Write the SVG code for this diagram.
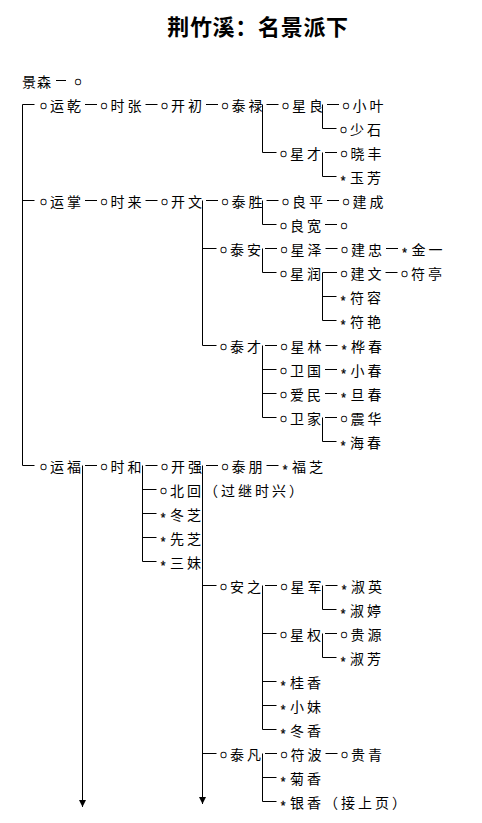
<svg xmlns="http://www.w3.org/2000/svg" width="482" height="823" viewBox="0 0 482 823">
<style>
.bg{fill:#fff}
.title{font-family:"Noto Sans CJK SC","Noto Sans CJK JP",sans-serif;font-size:22px;font-weight:bold;letter-spacing:0.7px;text-anchor:middle;fill:#000}
.t{font-family:"Noto Sans CJK SC","Noto Sans CJK JP",sans-serif;font-size:14px;letter-spacing:3px;fill:#000}
.o{font-family:"Noto Sans CJK SC","Noto Sans CJK JP",sans-serif;font-size:6px;fill:#000;stroke:#000;stroke-width:0.5;text-anchor:middle}
.s{font-family:"Liberation Sans",Arial,sans-serif;font-size:12px;fill:#000;stroke:#000;stroke-width:0.3;text-anchor:middle}
.c path{stroke:#000;stroke-width:1;fill:none}
</style>
<defs>
<marker id="arr" markerUnits="userSpaceOnUse" markerWidth="7" markerHeight="8" refX="7" refY="3.5" orient="auto">
<path d="M0,0 L7,3.5 L0,7 z" fill="#000"/>
</marker>
</defs>
<rect class="bg" x="0" y="0" width="482" height="823"/>
<text class="title" x="258" y="35">荆竹溪：名景派下</text>

<g id="connectors" class="c">
<path d="M56,80.5H66
M85,104.5H97 M145.5,104.5H157.5 M206,104.5H218 M266.5,104.5H278.5 M327,104.5H339
M325,152.5H337
M85,200.5H97 M145.5,200.5H157.5 M206,200.5H218 M266.5,200.5H278.5 M327,200.5H339
M325,224.5H337
M265,248.5H277 M325.5,248.5H337.5 M386,248.5H398
M322.5,272.5H337 M385.5,272.5H397.5
M265,345.5H277 M325.5,345.5H337.5
M325,369.5H337
M325,393.5H337
M325,417.5H337
M85,465.5H97 M145.5,465.5H157.5 M206,465.5H218 M266.5,465.5H278.5
M265,585.5H277 M325.5,585.5H337.5
M325,633.5H337
M265,753.5H277 M325.5,753.5H337.5"/>
<path d="M34.5,104.5H22.5V465.5H34.5 M22.5,200.5H34.5"/>
<path d="M262.5,104.5V152.5H276.5"/>
<path d="M322.5,104.5V128.5H336.5"/>
<path d="M322.5,152.5V176.5H336.5"/>
<path d="M202.5,200.5V345.5H216.5 M202.5,248.5H216.5"/>
<path d="M262.5,200.5V224.5H276.5"/>
<path d="M262.5,248.5V272.5H276.5"/>
<path d="M322.5,272.5V320.5H336.5 M322.5,296.5H336.5"/>
<path d="M262.5,345.5V417.5H276.5 M262.5,369.5H276.5 M262.5,393.5H276.5"/>
<path d="M322.5,417.5V441.5H336.5"/>
<path d="M142.5,465.5V561.5H156.5 M142.5,489.5H156.5 M142.5,513.5H156.5 M142.5,537.5H156.5"/>
<path d="M202.5,585.5H216.5 M202.5,753.5H216.5"/>
<path d="M262.5,585.5V729.5H276.5 M262.5,633.5H276.5 M262.5,681.5H276.5 M262.5,705.5H276.5"/>
<path d="M322.5,585.5V609.5H336.5"/>
<path d="M322.5,633.5V657.5H336.5"/>
<path d="M262.5,753.5V801.5H276.5 M262.5,777.5H276.5"/>
<path d="M82.5,465.5V807" marker-end="url(#arr)"/>
<path d="M202.5,465.5V804" marker-end="url(#arr)"/>
</g>

<g id="n00"><text class="t" x="22" y="86.5" style="letter-spacing:1px">景森</text><text class="o" x="78" y="83.5">○</text></g>

<g id="n01" transform="translate(41,104.5)"><text class="o" x="2.5" y="3">○</text><text class="t" x="9" y="6">运乾</text></g>
<g id="n02" transform="translate(101.5,104.5)"><text class="o" x="2.5" y="3">○</text><text class="t" x="9" y="6">时张</text></g>
<g id="n03" transform="translate(162,104.5)"><text class="o" x="2.5" y="3">○</text><text class="t" x="9" y="6">开初</text></g>
<g id="n04" transform="translate(222.5,104.5)"><text class="o" x="2.5" y="3">○</text><text class="t" x="9" y="6">泰禄</text></g>
<g id="n05" transform="translate(283,104.5)"><text class="o" x="2.5" y="3">○</text><text class="t" x="9" y="6">星良</text></g>
<g id="n06" transform="translate(343.5,104.5)"><text class="o" x="2.5" y="3">○</text><text class="t" x="9" y="6">小叶</text></g>
<g id="n07" transform="translate(341,128.5)"><text class="o" x="2.5" y="3">○</text><text class="t" x="9" y="6">少石</text></g>
<g id="n08" transform="translate(281,152.5)"><text class="o" x="2.5" y="3">○</text><text class="t" x="9" y="6">星才</text></g>
<g id="n09" transform="translate(341.5,152.5)"><text class="o" x="2.5" y="3">○</text><text class="t" x="9" y="6">晓丰</text></g>
<g id="n10" transform="translate(341,176.5)"><text class="s" x="2" y="8.5">*</text><text class="t" x="9" y="6">玉芳</text></g>

<g id="n11" transform="translate(41,200.5)"><text class="o" x="2.5" y="3">○</text><text class="t" x="9" y="6">运掌</text></g>
<g id="n12" transform="translate(101.5,200.5)"><text class="o" x="2.5" y="3">○</text><text class="t" x="9" y="6">时来</text></g>
<g id="n13" transform="translate(162,200.5)"><text class="o" x="2.5" y="3">○</text><text class="t" x="9" y="6">开文</text></g>
<g id="n14" transform="translate(222.5,200.5)"><text class="o" x="2.5" y="3">○</text><text class="t" x="9" y="6">泰胜</text></g>
<g id="n15" transform="translate(283,200.5)"><text class="o" x="2.5" y="3">○</text><text class="t" x="9" y="6">良平</text></g>
<g id="n16" transform="translate(343.5,200.5)"><text class="o" x="2.5" y="3">○</text><text class="t" x="9" y="6">建成</text></g>
<g id="n17" transform="translate(281,224.5)"><text class="o" x="2.5" y="3">○</text><text class="t" x="9" y="6">良宽</text></g>
<g id="n18" transform="translate(341.5,224.5)"><text class="o" x="2.5" y="3">○</text></g>
<g id="n19" transform="translate(221,248.5)"><text class="o" x="2.5" y="3">○</text><text class="t" x="9" y="6">泰安</text></g>
<g id="n20" transform="translate(281.5,248.5)"><text class="o" x="2.5" y="3">○</text><text class="t" x="9" y="6">星泽</text></g>
<g id="n21" transform="translate(342,248.5)"><text class="o" x="2.5" y="3">○</text><text class="t" x="9" y="6">建忠</text></g>
<g id="n22" transform="translate(402.5,248.5)"><text class="s" x="2" y="8.5">*</text><text class="t" x="9" y="6">金一</text></g>
<g id="n23" transform="translate(281,272.5)"><text class="o" x="2.5" y="3">○</text><text class="t" x="9" y="6">星润</text></g>
<g id="n24" transform="translate(341.5,272.5)"><text class="o" x="2.5" y="3">○</text><text class="t" x="9" y="6">建文</text></g>
<g id="n25" transform="translate(402,272.5)"><text class="o" x="2.5" y="3">○</text><text class="t" x="9" y="6">符亭</text></g>
<g id="n26" transform="translate(341,296.5)"><text class="s" x="2" y="8.5">*</text><text class="t" x="9" y="6">符容</text></g>
<g id="n27" transform="translate(341,320.5)"><text class="s" x="2" y="8.5">*</text><text class="t" x="9" y="6">符艳</text></g>
<g id="n28" transform="translate(221,345.5)"><text class="o" x="2.5" y="3">○</text><text class="t" x="9" y="6">泰才</text></g>
<g id="n29" transform="translate(281.5,345.5)"><text class="o" x="2.5" y="3">○</text><text class="t" x="9" y="6">星林</text></g>
<g id="n30" transform="translate(342,345.5)"><text class="s" x="2" y="8.5">*</text><text class="t" x="9" y="6">桦春</text></g>
<g id="n31" transform="translate(281,369.5)"><text class="o" x="2.5" y="3">○</text><text class="t" x="9" y="6">卫国</text></g>
<g id="n32" transform="translate(341.5,369.5)"><text class="s" x="2" y="8.5">*</text><text class="t" x="9" y="6">小春</text></g>
<g id="n33" transform="translate(281,393.5)"><text class="o" x="2.5" y="3">○</text><text class="t" x="9" y="6">爱民</text></g>
<g id="n34" transform="translate(341.5,393.5)"><text class="s" x="2" y="8.5">*</text><text class="t" x="9" y="6">旦春</text></g>
<g id="n35" transform="translate(281,417.5)"><text class="o" x="2.5" y="3">○</text><text class="t" x="9" y="6">卫家</text></g>
<g id="n36" transform="translate(341.5,417.5)"><text class="o" x="2.5" y="3">○</text><text class="t" x="9" y="6">震华</text></g>
<g id="n37" transform="translate(341,441.5)"><text class="s" x="2" y="8.5">*</text><text class="t" x="9" y="6">海春</text></g>

<g id="n38" transform="translate(41,465.5)"><text class="o" x="2.5" y="3">○</text><text class="t" x="9" y="6">运福</text></g>
<g id="n39" transform="translate(101.5,465.5)"><text class="o" x="2.5" y="3">○</text><text class="t" x="9" y="6">时和</text></g>
<g id="n40" transform="translate(162,465.5)"><text class="o" x="2.5" y="3">○</text><text class="t" x="9" y="6">开强</text></g>
<g id="n41" transform="translate(222.5,465.5)"><text class="o" x="2.5" y="3">○</text><text class="t" x="9" y="6">泰朋</text></g>
<g id="n42" transform="translate(283,465.5)"><text class="s" x="2" y="8.5">*</text><text class="t" x="9" y="6">福芝</text></g>
<g id="n43" transform="translate(161,489.5)"><text class="o" x="2.5" y="3">○</text><text class="t" x="9" y="6">北回（过继时兴）</text></g>
<g id="n44" transform="translate(161,513.5)"><text class="s" x="2" y="8.5">*</text><text class="t" x="9" y="6">冬芝</text></g>
<g id="n45" transform="translate(161,537.5)"><text class="s" x="2" y="8.5">*</text><text class="t" x="9" y="6">先芝</text></g>
<g id="n46" transform="translate(161,561.5)"><text class="s" x="2" y="8.5">*</text><text class="t" x="9" y="6">三妹</text></g>
<g id="n47" transform="translate(221,585.5)"><text class="o" x="2.5" y="3">○</text><text class="t" x="9" y="6">安之</text></g>
<g id="n48" transform="translate(281.5,585.5)"><text class="o" x="2.5" y="3">○</text><text class="t" x="9" y="6">星军</text></g>
<g id="n49" transform="translate(342,585.5)"><text class="s" x="2" y="8.5">*</text><text class="t" x="9" y="6">淑英</text></g>
<g id="n50" transform="translate(341,609.5)"><text class="s" x="2" y="8.5">*</text><text class="t" x="9" y="6">淑婷</text></g>
<g id="n51" transform="translate(281,633.5)"><text class="o" x="2.5" y="3">○</text><text class="t" x="9" y="6">星权</text></g>
<g id="n52" transform="translate(341.5,633.5)"><text class="o" x="2.5" y="3">○</text><text class="t" x="9" y="6">贵源</text></g>
<g id="n53" transform="translate(341,657.5)"><text class="s" x="2" y="8.5">*</text><text class="t" x="9" y="6">淑芳</text></g>
<g id="n54" transform="translate(281,681.5)"><text class="s" x="2" y="8.5">*</text><text class="t" x="9" y="6">桂香</text></g>
<g id="n55" transform="translate(281,705.5)"><text class="s" x="2" y="8.5">*</text><text class="t" x="9" y="6">小妹</text></g>
<g id="n56" transform="translate(281,729.5)"><text class="s" x="2" y="8.5">*</text><text class="t" x="9" y="6">冬香</text></g>
<g id="n57" transform="translate(221,753.5)"><text class="o" x="2.5" y="3">○</text><text class="t" x="9" y="6">泰凡</text></g>
<g id="n58" transform="translate(281.5,753.5)"><text class="o" x="2.5" y="3">○</text><text class="t" x="9" y="6">符波</text></g>
<g id="n59" transform="translate(342,753.5)"><text class="o" x="2.5" y="3">○</text><text class="t" x="9" y="6">贵青</text></g>
<g id="n60" transform="translate(281,777.5)"><text class="s" x="2" y="8.5">*</text><text class="t" x="9" y="6">菊香</text></g>
<g id="n61" transform="translate(281,801.5)"><text class="s" x="2" y="8.5">*</text><text class="t" x="9" y="6">银香（接上页）</text></g>
</svg>
